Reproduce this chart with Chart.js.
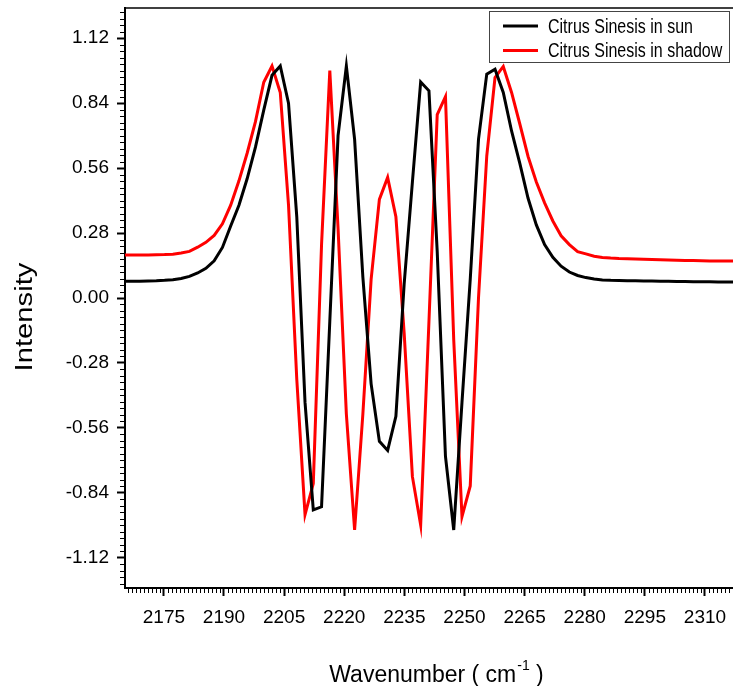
<!DOCTYPE html>
<html>
<head>
<meta charset="utf-8">
<title>Citrus Sinesis spectra</title>
<script src="https://cdn.jsdelivr.net/npm/chart.js@4.4.0/dist/chart.umd.min.js"></script>
<style>
  html, body { margin: 0; padding: 0; background: #fff; }
  canvas { display: block; }
</style>
</head>
<body>
<canvas id="SpectrumChart" width="733" height="686"></canvas>
<script>
// wavenumber grid (cm-1), shared by both spectra
var wavenumber = [
  2164.88, 2166.94, 2169.00, 2171.06, 2173.12, 2175.18, 2177.24, 2179.31, 2181.37, 2183.43,
  2185.49, 2187.55, 2189.61, 2191.67, 2193.73, 2195.79, 2197.85, 2199.92, 2201.98, 2204.04,
  2206.10, 2208.16, 2210.22, 2212.28, 2214.34, 2216.40, 2218.46, 2220.53, 2222.59, 2224.65,
  2226.71, 2228.77, 2230.83, 2232.89, 2234.95, 2237.01, 2239.07, 2241.14, 2243.20, 2245.26,
  2247.32, 2249.38, 2251.44, 2253.50, 2255.56, 2257.62, 2259.68, 2261.75, 2263.81, 2265.87,
  2267.93, 2269.99, 2272.05, 2274.11, 2276.17, 2278.23, 2280.29, 2282.36, 2284.42, 2286.48,
  2288.54, 2290.60, 2292.66, 2294.72, 2296.78, 2298.84, 2300.90, 2302.97, 2305.03, 2307.09,
  2309.15, 2311.21, 2313.27, 2315.33, 2317.39
];

var sunIntensity = [
  0.072, 0.072, 0.072, 0.073, 0.074, 0.076, 0.079, 0.084, 0.093, 0.108,
  0.128, 0.160, 0.218, 0.310, 0.400, 0.515, 0.650, 0.810, 0.960, 1.000,
  0.840, 0.350, -0.450, -0.913, -0.900, -0.100, 0.700, 1.000, 0.684, 0.090,
  -0.370, -0.618, -0.657, -0.510, 0.060, 0.500, 0.931, 0.893, 0.200, -0.683,
  -1.000, -0.450, 0.080, 0.684, 0.965, 0.986, 0.886, 0.720, 0.580, 0.430,
  0.315, 0.230, 0.175, 0.137, 0.112, 0.097, 0.088, 0.082, 0.078, 0.076,
  0.075, 0.074, 0.074, 0.073, 0.073, 0.072, 0.072, 0.071, 0.071, 0.070,
  0.070, 0.070, 0.069, 0.069, 0.069
];

var shadowIntensity = [
  0.185, 0.185, 0.185, 0.185, 0.186, 0.187, 0.189, 0.194, 0.201, 0.219,
  0.240, 0.270, 0.320, 0.400, 0.505, 0.625, 0.760, 0.930, 1.000, 0.886,
  0.400, -0.350, -0.934, -0.800, 0.230, 0.980, 0.300, -0.500, -1.000, -0.500,
  0.080, 0.425, 0.520, 0.350, -0.150, -0.770, -0.978, -0.100, 0.790, 0.868,
  -0.180, -0.942, -0.810, 0.000, 0.612, 0.950, 0.998, 0.886, 0.750, 0.610,
  0.500, 0.410, 0.332, 0.268, 0.230, 0.200, 0.190, 0.180, 0.175, 0.172,
  0.170, 0.169, 0.168, 0.167, 0.166, 0.165, 0.164, 0.163, 0.162, 0.162,
  0.161, 0.160, 0.160, 0.159, 0.159
];

var seriesLabels = ["Citrus Sinesis in sun", "Citrus Sinesis in shadow"];
var seriesColors = ["#000000", "#ff0000"];
var xTitle = "Wavenumber ( cm";
var xTitleSup = "-1";
var xTitleEnd = " )";
var yTitle = "Intensity";

var plainFont = "'Liberation Sans', Arial, sans-serif";

function toPoints(xs, ys) {
  var pts = [];
  for (var i = 0; i < xs.length; i++) {
    pts.push({ x: xs[i], y: ys[i] });
  }
  return pts;
}

// minor ticks, frame top, axis titles and the boxed legend
var decorations = {
  id: 'decorations',
  afterDraw: function(chart) {
    var ctx = chart.ctx;
    var area = chart.chartArea;
    var xs = chart.scales.x;
    var ys = chart.scales.y;
    ctx.save();

    ctx.strokeStyle = '#000';
    ctx.lineWidth = 1;
    ctx.beginPath();
    for (var w = Math.ceil(xs.min); w <= xs.max; w++) {
      if (w % 15 === 0) continue;
      var px = Math.round(xs.getPixelForValue(w)) + 0.5;
      ctx.moveTo(px, area.bottom);
      ctx.lineTo(px, area.bottom + 5);
    }
    for (var i = Math.ceil(ys.min / 0.028); i <= Math.floor(ys.max / 0.028); i++) {
      if (i % 10 === 0) continue;
      var py = Math.round(ys.getPixelForValue(i * 0.028)) + 0.5;
      ctx.moveTo(area.left - 5, py);
      ctx.lineTo(area.left, py);
    }
    ctx.stroke();

    ctx.lineWidth = 1.5;
    ctx.beginPath();
    ctx.moveTo(area.left, area.top);
    ctx.lineTo(area.right, area.top);
    ctx.stroke();

    // x title with superscript
    ctx.fillStyle = '#000';
    ctx.textBaseline = 'alphabetic';
    ctx.textAlign = 'left';
    ctx.font = '23px ' + plainFont;
    var w1 = ctx.measureText(xTitle).width;
    var w3 = ctx.measureText(xTitleEnd).width;
    ctx.font = '14px ' + plainFont;
    var w2 = ctx.measureText(xTitleSup).width;
    var tx = 436 - (w1 + w2 + w3) / 2;
    ctx.font = '23px ' + plainFont;
    ctx.fillText(xTitle, tx, 682);
    ctx.fillText(xTitleEnd, tx + w1 + w2 + 1, 682);
    ctx.font = '14px ' + plainFont;
    ctx.fillText(xTitleSup, tx + w1 + 1, 670);

    // y title, drawn upward and stretched along its length
    ctx.save();
    ctx.translate(32, 317);
    ctx.rotate(-Math.PI / 2);
    ctx.scale(1.27, 1);
    ctx.textAlign = 'center';
    ctx.font = '23px ' + plainFont;
    ctx.fillText(yTitle, 0, 0);
    ctx.restore();

    // legend
    var bx = 489.5, by = 11.5, bw = 240, bh = 51;
    ctx.fillStyle = '#fff';
    ctx.fillRect(bx, by, bw, bh);
    ctx.strokeStyle = '#444';
    ctx.lineWidth = 1;
    ctx.strokeRect(bx, by, bw, bh);
    ctx.font = '20px ' + plainFont;
    ctx.textBaseline = 'middle';
    ctx.textAlign = 'left';
    chart.data.datasets.forEach(function(ds, k) {
      var ly = 26 + k * 24.5;
      ctx.strokeStyle = ds.borderColor;
      ctx.lineWidth = 3;
      ctx.beginPath();
      ctx.moveTo(503, ly);
      ctx.lineTo(538, ly);
      ctx.stroke();
      ctx.fillStyle = '#000';
      ctx.save();
      ctx.translate(548, ly + 1);
      ctx.scale(0.8, 1);
      ctx.fillText(ds.label, 0, 0);
      ctx.restore();
    });

    ctx.restore();
  }
};

var spectrumCanvas = document.getElementById("SpectrumChart").getContext("2d");
var spectrum_chart = new Chart(spectrumCanvas, {
  type: 'line',
  data: {
    datasets: [
      {
        label: seriesLabels[0],
        data: toPoints(wavenumber, sunIntensity),
        borderColor: seriesColors[0],
        borderWidth: 3,
        fill: false
      },
      {
        label: seriesLabels[1],
        data: toPoints(wavenumber, shadowIntensity),
        borderColor: seriesColors[1],
        borderWidth: 3,
        fill: false
      }
    ]
  },
  options: {
    responsive: false,
    animation: false,
    layout: { padding: { top: 8, left: 0, right: 0, bottom: 0 } },
    elements: {
      point: { radius: 0 },
      line: { tension: 0, borderJoinStyle: 'miter' }
    },
    plugins: {
      legend: { display: false },
      tooltip: { enabled: false }
    },
    scales: {
      x: {
        type: 'linear',
        min: 2165.3,
        max: 2317,
        afterFit: function(scale) {
          scale.height = 98;
          scale.paddingLeft = 0;
          scale.paddingRight = 0;
        },
        border: { display: true, color: '#000', width: 2 },
        grid: { drawOnChartArea: false, drawTicks: true, tickLength: 8, tickWidth: 2, tickColor: '#000' },
        ticks: {
          stepSize: 15,
          includeBounds: false,
          maxTicksLimit: 20,
          autoSkip: false,
          maxRotation: 0,
          padding: 10,
          color: '#000',
          font: { family: plainFont, size: 19 },
          callback: function(v) { return String(v); }
        }
      },
      y: {
        min: -1.25,
        max: 1.25,
        afterFit: function(scale) {
          scale.width = 125;
          scale.paddingTop = 0;
          scale.paddingBottom = 0;
        },
        border: { display: true, color: '#000', width: 2 },
        grid: { drawOnChartArea: false, drawTicks: true, tickLength: 8, tickWidth: 2, tickColor: '#000' },
        ticks: {
          stepSize: 0.28,
          includeBounds: false,
          maxTicksLimit: 20,
          padding: 8,
          color: '#000',
          font: { family: plainFont, size: 19 },
          callback: function(v) {
            var s = Number(v).toFixed(2);
            return s === "-0.00" ? "0.00" : s;
          }
        }
      }
    }
  },
  plugins: [decorations]
});
</script>
</body>
</html>
